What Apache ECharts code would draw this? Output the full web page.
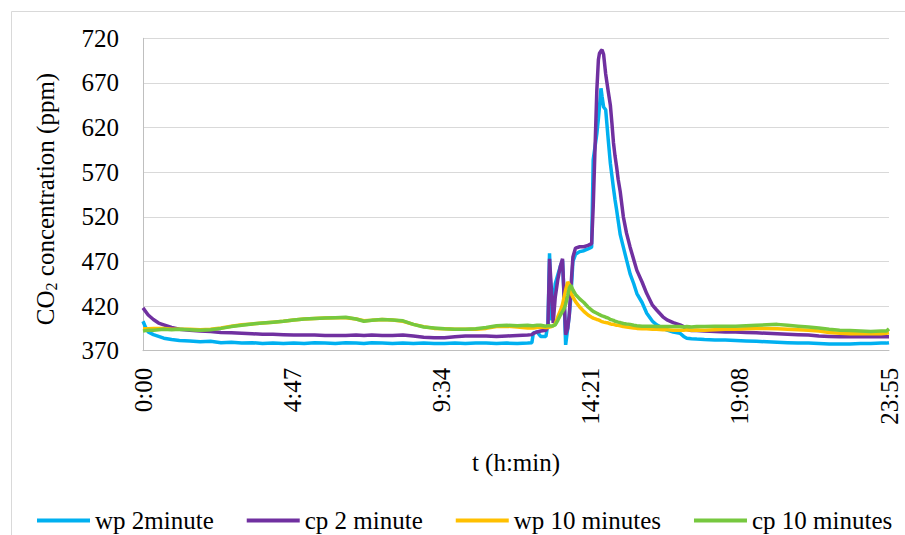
<!DOCTYPE html>
<html>
<head>
<meta charset="utf-8">
<script src="https://cdn.jsdelivr.net/npm/echarts@6/dist/echarts.min.js"></script>
<style>html,body{margin:0;padding:0;background:#fff;}#chart{width:905px;height:535px;}</style>
</head>
<body>
<div id="chart"></div>
<script>
// time of day in minutes since 0:00
const times = [0,5,10,20,30,40,55,70,90,110,130,150,170,190,210,230,250,270,290,310,330,350,370,390,410,425,440,460,480,500,520,540,560,580,600,620,640,660,680,700,720,740,
748,751,758,765,775,779,782,786,789,793,798,803,807,810,813,817,820,823,827,832,840,848,856,863,866,873,876,878,881,883,886,890,895,899,902,905,908,911,914,918,924,930,937,944,950,960,969,980,988,1000,1008,1020,1033,1040,1046,1055,
1065,1080,1100,1120,1140,1160,1180,1200,1220,1240,1260,1280,1300,1320,1340,1360,1380,1400,1420,1430,1435];

const wp2 = [403,396,391,388,386,384,382.5,381.5,381,380,380.5,379,379.5,378.5,379,378,378.5,378,378.5,378,379,378.5,378,379,378.5,378,379,378.5,378,378.5,378,378.5,378,378,378.5,378,378.5,378.5,378,378.5,378,378.5,
379,390,391,386,386,400,479,404,420,445,455,465,471,430,376.5,395,410,430,470,478,481,482,484,486,584,613,630,643,664,655,643,640,606,580,566,552,539,528,516,500,486,472,456,445,434,424,412,403,399,395,393,391,389.5,386,384,383.5,
383,382.5,382,382,381.5,381,380.5,380,379.5,379,378.5,378.5,378,377.5,377.5,377.5,378,378,378.5,378.5,379];

const cp2 = [418,414,410,405,401,399,396,394,393,392,391.5,390.5,390,389.5,389,388.5,388.5,388,387.5,387.5,387.5,387,387,387,387.5,387,387.5,387,387,387.5,386.5,385,384.5,384.5,385.5,386.5,386.5,386.5,386,386.5,387,387.5,
388,389.5,391,392,393,398,473,435,401,430,450,465,473,430,388,395,410,440,475,485,486.5,486.5,488,490,531,662,696,703,706,707,702,680,660,645,625,603,588,576,562,548,520,502,486,472,460,447,434,421,415.6,408,404.5,401.4,399,397,394,392.5,
392.5,392,391.5,391,391,390.5,390,389.5,389,388.5,388,387.5,386.5,386,385.5,385.5,385.5,385.5,385.5,385.5,385.5];

const wp10 = [394.5,394.5,394.5,395,395,395,394,394,394,393.5,394,395.5,397.5,399,400,401,402,403,404.5,405.5,406,406.5,407,407,405.5,403.5,404,405,404.5,403,399.5,397,395,394.5,394,394,394,395,397,397.5,396.5,395.5,
395.5,395.5,396,396.5,396,396,396.5,397,398,400,408,415,422,430,438,447,444,435,430,425,419,414,410,407.5,406.5,405,404.5,404,403,402.5,402,401.5,401,400,399.5,399.5,399,398.5,398.5,398,397,396.5,396,395.5,395,394.5,394.5,394,394,393.5,393.5,393,393,393,393.5,393,
393.2,393,393.5,394,394,394.5,395,395,394.5,394,393.5,393,392,390.5,389.5,389,389,389,389,389.5,390];

const cp10 = [392,392.5,393,393,393.5,394,393.5,394,393.5,393,393.5,395,397,398.5,400,401,402,403,404.5,405.5,406,406.5,407,407.5,405.5,403,404,405,404.5,403.5,399.5,396.5,395.5,394.5,394,394,394.5,396,398,398.5,398,398.5,
398,398,398.5,398.5,397.5,398,398,397.5,398,399,404,410,414,417,422,432,440,443.5,438,433,428,424,419,415.5,414,412,411,410.5,409.5,409,408.5,407.5,406.5,405,404.5,404,403,402.5,402,401.5,400.5,400,399.5,398.5,398,397.5,397.5,397.5,397,397,397,397,397,396.5,397,396.5,
397,397,397.5,397.5,397.5,398,398.5,399,399.5,398.5,397.5,396.5,395.5,394,393,392.5,392,391.5,392,392,394.5];

const seriesNames = ['wp 2minute','cp 2 minute','wp 10 minutes','cp 10 minutes'];
const seriesColors = ['#00B0F0','#7030A0','#FFC000','#76C83F'];
const xTickLabels = ['0:00','4:47','9:34','14:21','19:08','23:55'];
const xTickStep = 287;
const yMin = 370, yMax = 720, yStep = 50;

const FONT = 'Liberation Serif';
const FS = 25;
const seriesValues = [wp2, cp2, wp10, cp10];

const chart = echarts.init(document.getElementById('chart'), null, {renderer: 'svg'});

chart.setOption({
  animation: false,
  backgroundColor: '#fff',
  grid: {left: 143, right: 16, top: 38.3, bottom: 184.3, containLabel: false},
  xAxis: {
    type: 'value', min: 0, max: xTickStep * (xTickLabels.length - 1), interval: xTickStep,
    name: 't (h:min)', nameLocation: 'middle', nameGap: 99,
    nameTextStyle: {fontFamily: FONT, fontSize: FS, color: '#000'},
    axisLine: {show: true, lineStyle: {color: '#BFBFBF', width: 1}},
    axisTick: {show: false},
    splitLine: {show: false},
    axisLabel: {rotate: 90, margin: 17, fontFamily: FONT, fontSize: FS, color: '#000',
      formatter: v => xTickLabels[Math.round(v / xTickStep)]}
  },
  yAxis: {
    type: 'value', min: yMin, max: yMax, interval: yStep,
    axisLine: {show: true, lineStyle: {color: '#BFBFBF', width: 1}},
    axisTick: {show: false},
    splitLine: {show: true, lineStyle: {color: '#D9D9D9', width: 1}},
    axisLabel: {margin: 24, fontFamily: FONT, fontSize: FS, color: '#000'}
  },
  legend: {
    data: seriesNames, left: 37, top: 508, icon: 'rect', itemWidth: 53, itemHeight: 4, itemGap: 33,
    padding: 0, textStyle: {fontFamily: FONT, fontSize: FS, color: '#000'}, selectedMode: false
  },
  graphic: [
    {type: 'rect', z: -10, silent: true, shape: {x: 11.5, y: 11.5, width: 1000, height: 1000},
      style: {fill: 'none', stroke: '#D9D9D9', lineWidth: 1}},
    {type: 'text', x: 45, y: 199, rotation: Math.PI / 2, silent: true,
      style: {text: '{a|CO}{b|2}{a| concentration (ppm)}', align: 'center', verticalAlign: 'middle',
        rich: {a: {fontFamily: FONT, fontSize: FS, lineHeight: 28, fill: '#000', verticalAlign: 'middle'},
               b: {fontFamily: FONT, fontSize: 16, lineHeight: 16, fill: '#000', verticalAlign: 'bottom'}}}}
  ],
  series: seriesNames.map((n, i) => ({
    name: n, type: 'line', showSymbol: false, symbol: 'none',
    lineStyle: {width: 3.5, color: seriesColors[i]}, itemStyle: {color: seriesColors[i]},
    data: times.map((t, k) => [t, seriesValues[i][k]])
  }))
});
</script>
</body>
</html>
